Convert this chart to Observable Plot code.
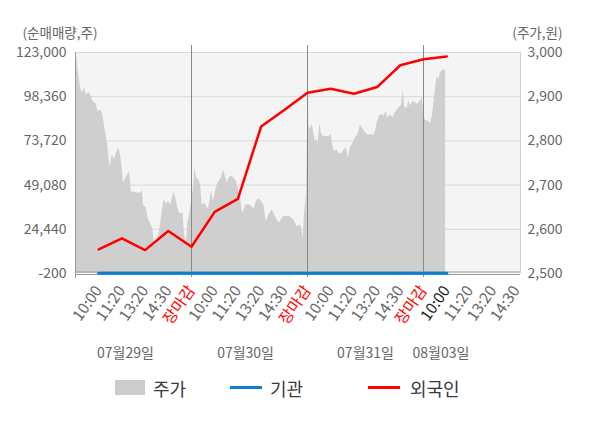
<!DOCTYPE html>
<html>
<head>
<meta charset="utf-8">
<script src="https://cdn.jsdelivr.net/npm/d3@7"></script>
<script src="https://cdn.jsdelivr.net/npm/@observablehq/plot@0.6"></script>
<style>
  html, body { margin: 0; padding: 0; background: #fff; }
  #wrap { position: relative; width: 600px; height: 428px; font-family: "Noto Sans CJK KR", "Noto Sans", sans-serif; }
  .legend { position: absolute; top: 377px; left: 0; width: 600px; height: 24px; font-size: 18px; color: #3a3a3a; }
  .legend span { position: absolute; top: 0; line-height: 22px; }
  .sw { position: absolute; }
</style>
</head>
<body>
<div id="wrap">
  <div id="chart"></div>
  <div class="legend">
    <div class="sw" style="left:115px; top:3px; width:30px; height:15px; background:#cccccc;"></div>
    <span style="left:153px;">주가</span>
    <div class="sw" style="left:230px; top:9px; width:32px; height:3px; background:#0a7fd0;"></div>
    <span style="left:270px;">기관</span>
    <div class="sw" style="left:368px; top:9px; width:32px; height:3px; background:#ff0000;"></div>
    <span style="left:410px;">외국인</span>
  </div>
</div>
<script>
// ---- data ----
// x positions are in "slot" units: each trading day = 5 slots (10:00, 11:20, 13:20, 14:30, 장마감)
const xTickPos = [1,2,3,4,5,6,7,8,9,10,11,12,13,14,15,16,17,18,19];
const xTickLabels = ["10:00","11:20","13:20","14:30","장마감","10:00","11:20","13:20","14:30","장마감","10:00","11:20","13:20","14:30","장마감","10:00","11:20","13:20","14:30"];
const dayLabels = ["07월29일","07월30일","07월31일","08월03일"];
const dayLabelPos = [2.15, 7.33, 12.5, 15.75];
const daySeparators = [5, 10, 15];

const leftTicks = [-200, 24440, 49080, 73720, 98360, 123000];
const priceTicks = [2500, 2600, 2700, 2800, 2900, 3000];

// 외국인 / 기관 cumulative net buying (shares), one point per slot 1..16
const flowSlots = [1,2,3,4,5,6,7,8,9,10,11,12,13,14,15,16];
const foreignNet = [13240,19400,12850,23490,14700,34130,41400,81730,90900,100600,102840,100040,103740,115890,119250,120760];
const instNet    = [0,0,0,0,0,0,0,0,0,0,0,0,0,0,0,0];

// 주가 (KRW), intraday
const priceT = [
  0,0.05,0.13,0.17,0.21,0.31,0.38,0.46,0.60,0.67,0.74,0.89,0.96,1.11,1.17,1.29,1.36,1.43,1.49,1.58,1.68,1.75,1.85,1.94,1.99,2.07,2.18,2.33,2.40,2.62,2.83,2.88,2.93,3.05,3.13,3.23,3.33,3.41,3.51,3.62,3.70,3.81,3.91,4.02,4.10,4.24,4.34,4.41,4.49,4.63,4.70,4.78,4.84,4.89,
  5.03,5.10,5.14,5.22,5.31,5.39,5.46,5.57,5.68,5.75,5.86,5.94,6.03,6.11,6.18,6.29,6.37,6.44,6.54,6.61,6.71,6.82,6.93,7.01,7.11,7.21,7.33,7.50,7.62,7.69,7.79,7.90,8.02,8.12,8.22,8.33,8.48,8.59,8.69,8.79,8.91,9.02,9.13,9.24,9.34,9.45,9.56,9.66,9.74,9.81,9.88,9.96,
  10.03,10.06,10.13,10.20,10.27,10.34,10.42,10.46,10.53,10.60,10.68,10.78,10.92,11.03,11.09,11.18,11.28,11.38,11.50,11.59,11.68,11.75,11.85,11.97,12.07,12.17,12.28,12.40,12.50,12.62,12.75,12.86,12.93,13.00,13.10,13.19,13.29,13.39,13.46,13.58,13.68,13.79,13.94,14.04,14.13,14.19,14.30,14.37,14.44,14.56,14.66,14.75,14.87,14.94,
  15.01,15.06,15.16,15.26,15.30,15.38,15.44,15.52,15.59,15.66,15.73,15.81,15.88,15.95
];
const priceV = [
  2996,2989,2951,2939,2920,2909,2921,2905,2909,2901,2890,2883,2867,2869,2860,2822,2799,2769,2739,2769,2758,2769,2784,2769,2746,2705,2716,2731,2685,2682,2682,2689,2655,2648,2625,2614,2602,2564,2572,2595,2625,2667,2657,2663,2655,2685,2667,2648,2636,2636,2587,2568,2617,2625,
  2671,2701,2739,2716,2712,2701,2655,2659,2648,2648,2689,2663,2685,2701,2708,2716,2735,2723,2705,2716,2720,2716,2708,2693,2670,2636,2655,2655,2651,2644,2663,2669,2663,2655,2617,2632,2644,2632,2621,2614,2625,2630,2629,2629,2625,2617,2606,2610,2606,2580,2640,2682,
  2943,2833,2826,2837,2818,2799,2803,2792,2839,2818,2810,2810,2810,2814,2788,2776,2780,2769,2773,2780,2784,2761,2784,2795,2807,2814,2835,2826,2818,2813,2814,2813,2822,2841,2856,2860,2856,2867,2852,2860,2852,2864,2875,2879,2914,2875,2875,2890,2879,2890,2886,2883,2890,2898,
  2871,2848,2845,2843,2837,2856,2883,2920,2947,2939,2955,2958,2962,2958
];

// ---- scales ----
const yMin = -200, yMax = 123000, pMin = 2500, pMax = 3000;
const xMax = 19.18;
const toLeft = p => yMin + (p - pMin) / (pMax - pMin) * (yMax - yMin);
const toPrice = v => Math.round(pMin + (v - yMin) / (yMax - yMin) * (pMax - pMin));
const fmt = d3.formatLocale({decimal: ".", thousands: ",", grouping: [3], currency: ["", ""], minus: "-"}).format(",");

const priceData = priceT.map((t, i) => ({t, v: toLeft(priceV[i])}));
const foreignData = flowSlots.map((s, i) => ({t: s, v: foreignNet[i]}));
const instData = flowSlots.map((s, i) => ({t: s, v: instNet[i]}));

const grayTicks = xTickPos.filter((d, i) => xTickLabels[i] !== "장마감" && i !== 15);
const redTicks = xTickPos.filter((d, i) => xTickLabels[i] === "장마감");
const darkTicks = [xTickPos[15]];
const lab = k => xTickLabels[xTickPos.indexOf(k)];

const font = '"Noto Sans CJK KR", "Noto Sans", sans-serif';
const xAxisOpts = {anchor: "bottom", tickSize: 0, tickPadding: 14, tickRotate: -55, tickFormat: lab, fontSize: 15.5, label: null};

const chart = Plot.plot({
  width: 600,
  height: 368,
  marginTop: 52,
  marginBottom: 95,
  marginLeft: 75,
  marginRight: 80,
  style: {fontFamily: font, fontSize: "14px", color: "#666", background: "#fff"},
  x: {domain: [0, xMax], axis: null},
  y: {domain: [yMin, yMax], axis: null},
  marks: [
    Plot.frame({fill: "#f4f4f4", stroke: "none"}),
    Plot.ruleY(leftTicks.slice(1), {stroke: "#d9d9d9"}),
    Plot.areaY(priceData, {x: "t", y1: yMin, y2: "v", fill: "#cfcfcf"}),
    Plot.ruleX(daySeparators, {stroke: "#888", insetTop: -7, insetBottom: -4}),
    Plot.ruleX([0], {stroke: "#999", insetBottom: -5}),
    Plot.ruleX([xMax], {stroke: "#d0d0d0"}),
    Plot.ruleY([yMin], {stroke: "#999", dy: -1.5}),
    Plot.ruleY([yMin], {stroke: "#999", dy: 1}),
    Plot.line(instData, {x: "t", y: "v", stroke: "#0a7fd0", strokeWidth: 3}),
    Plot.line(foreignData, {x: "t", y: "v", stroke: "#ff0000", strokeWidth: 2.5}),
    Plot.axisY(leftTicks, {anchor: "left", tickSize: 0, tickPadding: 9, tickFormat: fmt, fill: "#666", fontSize: 14, label: null}),
    Plot.axisY(priceTicks.map(toLeft), {anchor: "right", tickSize: 0, tickPadding: 7, tickFormat: v => fmt(toPrice(v)), fill: "#666", fontSize: 14, label: null}),
    Plot.axisX(grayTicks, {...xAxisOpts, fill: "#666"}),
    Plot.axisX(redTicks, {...xAxisOpts, fill: "#ff0000"}),
    Plot.axisX(darkTicks, {...xAxisOpts, fill: "#222"}),
    Plot.text(dayLabels, {x: (d, i) => dayLabelPos[i], text: d => d, frameAnchor: "bottom", lineAnchor: "middle", dy: 80, fill: "#666", fontSize: 14}),
    Plot.text(["(순매매량,주)"], {frameAnchor: "top-left", lineAnchor: "middle", dx: -53, dy: -19, textAnchor: "start", fill: "#666", fontSize: 13.5}),
    Plot.text(["(주가,원)"], {frameAnchor: "top-right", lineAnchor: "middle", dx: 42, dy: -19, textAnchor: "end", fill: "#666", fontSize: 13.5})
  ]
});
document.getElementById("chart").appendChild(chart);
</script>
</body>
</html>
